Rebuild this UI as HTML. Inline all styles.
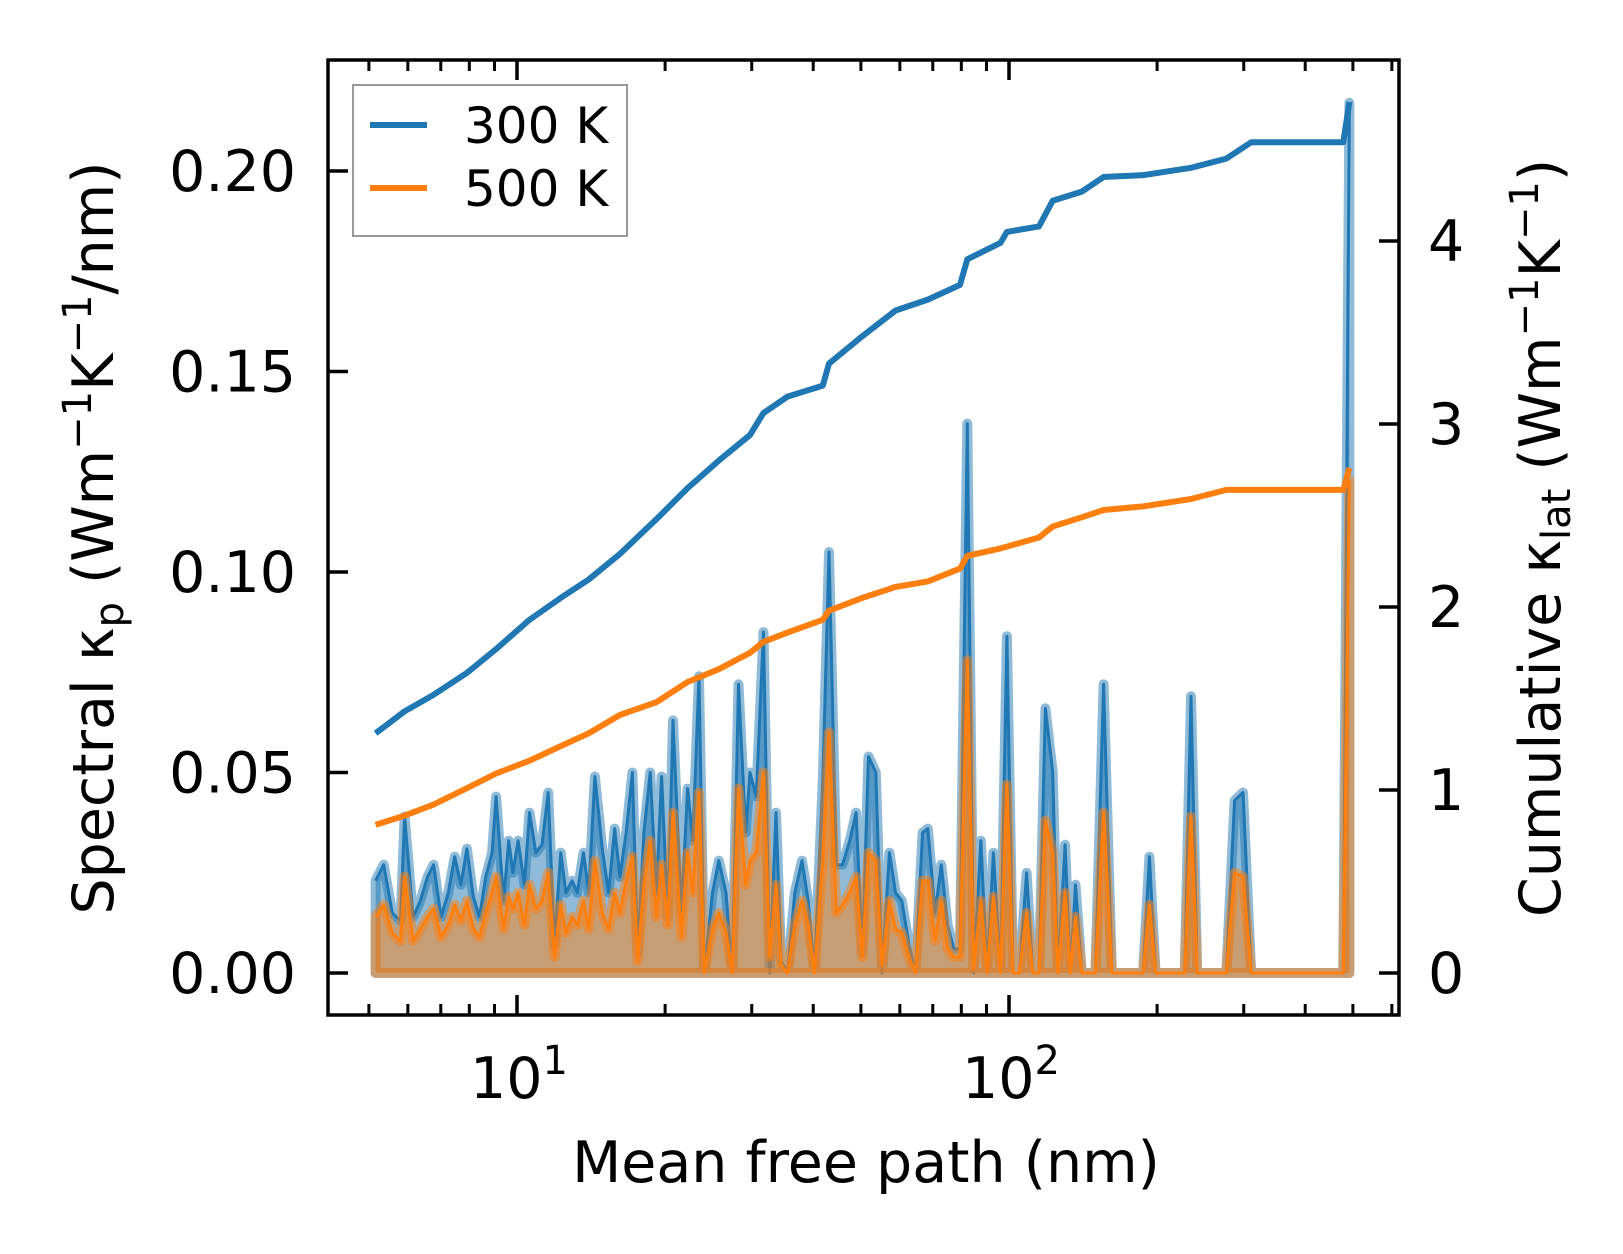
<!DOCTYPE html>
<html><head><meta charset="utf-8"><style>
html,body{margin:0;padding:0;background:#fff;}
svg{display:block;font-family:"DejaVu Sans","Liberation Sans",sans-serif;}
</style></head><body>
<svg id="chart" width="1623" height="1254" viewBox="0 0 1623 1254" xmlns="http://www.w3.org/2000/svg">
<g id="plot"></g>
</svg>
<script>
const mfp = [5.16,5.36,5.58,5.80,5.91,6.15,6.36,6.58,6.77,7.01,7.25,7.47,7.69,7.91,8.15,8.39,8.64,8.90,9.07,9.39,9.62,9.81,10.05,10.35,10.60,10.92,11.24,11.57,11.92,12.27,12.57,12.94,13.26,13.65,13.99,14.40,14.90,15.35,15.80,16.19,16.67,17.16,17.59,18.11,18.65,19.20,19.67,20.25,20.75,21.58,22.22,22.77,23.44,24.02,24.97,25.71,26.60,27.39,28.20,29.17,29.75,30.63,31.70,32.64,33.60,34.43,35.46,36.69,37.96,39.08,40.24,41.83,43.07,44.57,45.88,47.47,48.88,50.33,51.82,53.62,55.21,57.13,58.82,60.56,62.66,64.52,66.75,68.39,70.76,72.86,75.02,77.24,79.52,82.28,84.72,87.66,90.27,92.94,96.16,99.0,101.9,105.0,108.6,111.8,115.1,118.6,122.7,125.7,130.0,133.3,136.5,140.6,149.8,155.7,161.9,187.3,192.9,198.6,227.6,234.4,241.3,276.5,287.5,298.9,310.7,478.0,492.0];
const spec300 = [0.023,0.027,0.015,0.013,0.039,0.014,0.018,0.024,0.027,0.014,0.020,0.029,0.022,0.031,0.019,0.014,0.024,0.030,0.044,0.018,0.033,0.025,0.033,0.022,0.040,0.030,0.032,0.045,0.007,0.030,0.020,0.023,0.020,0.030,0.020,0.049,0.031,0.020,0.036,0.024,0.035,0.050,0.005,0.035,0.050,0.020,0.049,0.014,0.063,0.015,0.046,0.033,0.074,0.000,0.020,0.028,0.020,0.000,0.072,0.035,0.050,0.044,0.085,0.000,0.040,0.003,0.000,0.020,0.028,0.018,0.000,0.048,0.105,0.027,0.027,0.033,0.040,0.005,0.054,0.050,0.000,0.030,0.020,0.018,0.007,0.000,0.035,0.036,0.015,0.027,0.012,0.006,0.006,0.137,0.000,0.033,0.000,0.030,0.000,0.084,0.000,0.000,0.025,0.000,0.000,0.066,0.050,0.000,0.032,0.000,0.022,0.000,0.000,0.072,0.000,0.000,0.029,0.000,0.000,0.069,0.000,0.000,0.043,0.045,0.000,0.000,0.217];
const spec500 = [0.014,0.017,0.010,0.008,0.024,0.008,0.011,0.014,0.016,0.009,0.012,0.017,0.013,0.018,0.011,0.009,0.015,0.020,0.024,0.011,0.019,0.016,0.020,0.012,0.022,0.016,0.018,0.025,0.004,0.017,0.010,0.014,0.012,0.018,0.011,0.028,0.015,0.011,0.020,0.015,0.023,0.029,0.003,0.022,0.033,0.014,0.027,0.012,0.040,0.009,0.030,0.020,0.045,0.000,0.011,0.015,0.010,0.000,0.046,0.022,0.028,0.030,0.050,0.004,0.022,0.002,0.000,0.012,0.018,0.012,0.000,0.028,0.060,0.015,0.017,0.020,0.024,0.004,0.030,0.028,0.002,0.018,0.011,0.010,0.004,0.000,0.023,0.023,0.008,0.018,0.006,0.004,0.004,0.078,0.001,0.018,0.000,0.019,0.000,0.047,0.000,0.000,0.015,0.000,0.000,0.038,0.030,0.000,0.020,0.000,0.014,0.000,0.000,0.040,0.000,0.000,0.017,0.000,0.000,0.039,0.000,0.000,0.025,0.024,0.000,0.000,0.123];
const cumMfp = [5.16,5.91,6.77,7.91,9.07,10.60,12.27,13.99,16.19,19.20,22.22,25.71,29.75,31.70,35.46,41.83,43.07,50.33,58.82,68.39,79.52,82.28,96.16,99.0,115.1,122.7,140.6,155.7,187.3,234.4,276.5,310.7,478.0,492.0];
const cum300 = [1.31,1.43,1.52,1.64,1.77,1.93,2.05,2.15,2.29,2.48,2.65,2.80,2.94,3.06,3.15,3.21,3.33,3.48,3.62,3.68,3.76,3.90,3.99,4.05,4.08,4.22,4.27,4.35,4.36,4.40,4.45,4.54,4.54,4.76];
const cum500 = [0.81,0.86,0.92,1.01,1.09,1.16,1.24,1.31,1.41,1.48,1.59,1.66,1.75,1.81,1.86,1.93,1.98,2.05,2.11,2.14,2.21,2.28,2.32,2.33,2.38,2.44,2.49,2.53,2.55,2.59,2.64,2.64,2.64,2.76];
const leftTicks = [0, 0.05, 0.10, 0.15, 0.20];
const leftTickLabels = ["0.00","0.05","0.10","0.15","0.20"];
const rightTicks = [0,1,2,3,4];
const xMajor = [10, 100];
const xMinor = [5,6,7,8,9,20,30,40,50,60,70,80,90,200,300,400,500,600];

const L=328, R=1399, T=60, B=1015;
const X = v => 517 + (Math.log10(v) - 1) * 492;
const YL = v => 973 - v * 4010;
const YR = v => 973 - v * 183;
const NS = "http://www.w3.org/2000/svg";
const g = document.getElementById('plot');
function mk(tag, attrs, parent) {
  const e = document.createElementNS(NS, tag);
  for (const k in attrs) e.setAttribute(k, attrs[k]);
  (parent || g).appendChild(e);
  return e;
}
function spectral(vals, color, name) {
  const pts = mfp.map((m,i)=>X(m).toFixed(1)+","+YL(vals[i]).toFixed(1));
  const poly = [X(mfp[0]).toFixed(1)+","+YL(0)].concat(pts, [X(mfp[mfp.length-1]).toFixed(1)+","+YL(0)]).join(" ");
  const f = mk('polygon',{points:poly, fill:color, 'fill-opacity':0.5, stroke:color, 'stroke-opacity':0.5, 'stroke-width':10, 'stroke-linejoin':'round'});
  
  
  const l = mk('polyline',{points:pts.join(" "), fill:'none', stroke:color, 'stroke-width':3, 'stroke-linejoin':'round'});
  
  
}
spectral(spec300, '#1f77b4', 'spectral-300k');
spectral(spec500, '#ff7f0e', 'spectral-500k');
function cum(vals, color, name) {
  const pts = cumMfp.map((m,i)=>X(m).toFixed(1)+","+YR(vals[i]).toFixed(1)).join(" ");
  const l = mk('polyline',{points:pts, fill:'none', stroke:color, 'stroke-width':6, 'stroke-linejoin':'round'});
  
  
}
cum(cum300, '#1f77b4', 'cumulative-300k');
cum(cum500, '#ff7f0e', 'cumulative-500k');

const fr = mk('rect',{x:L,y:T,width:R-L,height:B-T,fill:'none',stroke:'#000','stroke-width':3.5});



leftTicks.forEach((v,i)=>{
  const y = YL(v);
  const t = mk('line',{x1:L,x2:L+20,y1:y,y2:y,stroke:'#000','stroke-width':3.5});
  
  
  const tx = mk('text',{x:296,y:y+20,'text-anchor':'end','font-size':57,fill:'#000'});
  tx.textContent = leftTickLabels[i];
  
  
});
rightTicks.forEach(v=>{
  const y = YR(v);
  const t = mk('line',{x1:R-20,x2:R,y1:y,y2:y,stroke:'#000','stroke-width':3.5});
  
  
  const tx = mk('text',{x:1428,y:y+20,'text-anchor':'start','font-size':57,fill:'#000'});
  tx.textContent = String(v);
  
  
});
xMajor.forEach(v=>{
  const x = X(v);
  [[B,B-20],[T,T+20]].forEach(([a,b])=>{
    const t = mk('line',{x1:x,x2:x,y1:a,y2:b,stroke:'#000','stroke-width':3.5});
    
    
  });
  const tx = mk('text',{x:x+2,y:1098,'text-anchor':'middle','font-size':57,fill:'#000'});
  tx.textContent = '10';
  const sp = mk('tspan',{dy:-24,'font-size':40},tx);
  sp.textContent = String(Math.round(Math.log10(v)));
  
  
});
xMinor.forEach(v=>{
  const x = X(v);
  if (x < L || x > R) return;
  [[B,B-11],[T,T+11]].forEach(([a,b])=>{
    const t = mk('line',{x1:x,x2:x,y1:a,y2:b,stroke:'#000','stroke-width':3});
    
    
  });
});

const xt = mk('text',{x:866,y:1182,'text-anchor':'middle','font-size':57,fill:'#000'});
xt.textContent = 'Mean free path (nm)';



const yl = mk('text',{transform:'translate(113,538) rotate(-90)','text-anchor':'middle','font-size':57,fill:'#000'});


yl.innerHTML = 'Spectral κ<tspan font-size="40" dy="10">p</tspan><tspan dy="-10"> (Wm</tspan><tspan font-size="40" dy="-22">−1</tspan><tspan dy="22">K</tspan><tspan font-size="40" dy="-22">−1</tspan><tspan dy="22">/nm)</tspan>';

const yr = mk('text',{transform:'translate(1560,538) rotate(-90)','text-anchor':'middle','font-size':57,fill:'#000'});


yr.innerHTML = 'Cumulative κ<tspan font-size="40" dy="10">lat</tspan><tspan dy="-10"> (Wm</tspan><tspan font-size="40" dy="-22">−1</tspan><tspan dy="22">K</tspan><tspan font-size="40" dy="-22">−1</tspan><tspan dy="22">)</tspan>';

const lg = mk('g',{});


const lb = mk('rect',{x:353,y:85,width:274,height:151,fill:'#fff','fill-opacity':0.8,stroke:'#999','stroke-width':2},lg);


[['300 K','#1f77b4',125],['500 K','#ff7f0e',188]].forEach(([lab,c,y])=>{
  const e = mk('g',{},lg);
  
  
  mk('line',{x1:370,x2:427,y1:y,y2:y,stroke:c,'stroke-width':6},e);
  const t = mk('text',{x:464,y:y+18,'font-size':50,fill:'#000'},e);
  t.textContent = lab;
});
</script>
</body></html>
